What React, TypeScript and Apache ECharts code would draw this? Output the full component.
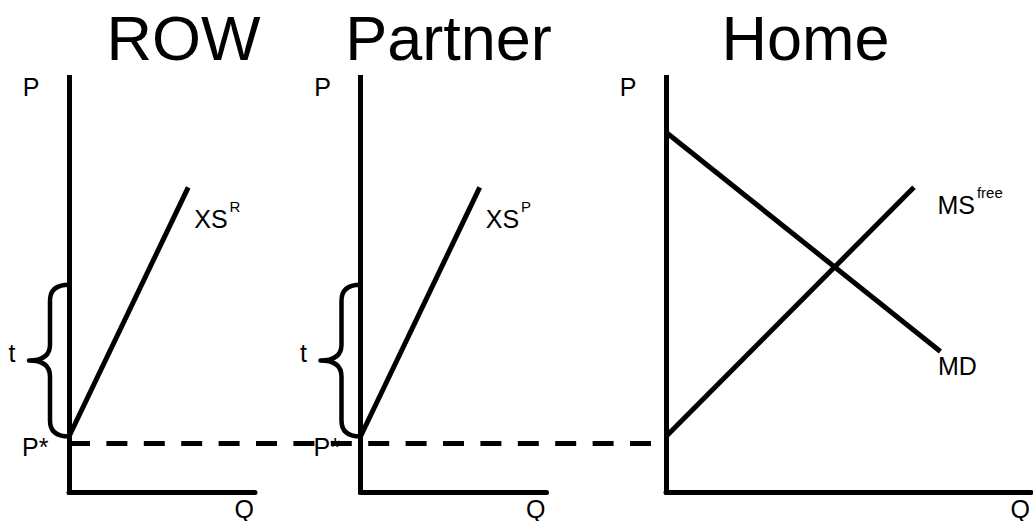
import React, { useEffect, useRef } from 'react';
import * as echarts from 'echarts';

const FONT = '"Liberation Sans", Arial, Helvetica, sans-serif';

// ---- data ----
const panelTitles = ['ROW', 'Partner', 'Home'];
const priceMax = 100;
const quantityMax = [44, 44, 87];
const worldPrice = 13.4; // P*
const tariff = 36.6; // t (brace height above P*)
const xsRow = [[0, 13.4], [28.2, 73.5]];
const xsPartner = [[0, 13.4], [28.2, 73.5]];
const msFree = [[0, 13.4], [59.1, 73.5]];
const mdHome = [[0, 86.8], [65.4, 33.9]];

// ---- layout / style ----
const GRID_TOP = 77.5;
const GRID_H = 422.5;
const grids = [
  { left: 69, top: GRID_TOP, width: 186, height: GRID_H },
  { left: 360.5, top: GRID_TOP, width: 186, height: GRID_H },
  { left: 666, top: GRID_TOP, width: 369, height: GRID_H },
  { left: 69, top: GRID_TOP, width: 597, height: GRID_H }, // span for the P* dashed line
];
const titleX = [183.5, 448.5, 805.5];
const BLACK = '#000';
const LABEL_SIZE = 25;

function qAxis(i: number) {
  return {
    type: 'value', gridIndex: i, min: 0, max: quantityMax[i],
    name: 'Q', nameLocation: 'end', nameGap: -1,
    nameTextStyle: { color: BLACK, fontFamily: FONT, fontSize: LABEL_SIZE, align: 'right', verticalAlign: 'top', padding: [4, 0, 0, 0] },
    axisLine: { show: true, onZero: false, lineStyle: { color: BLACK, width: 5 } },
    axisTick: { show: false }, axisLabel: { show: false }, splitLine: { show: false },
  };
}
function pAxis(i: number) {
  return {
    type: 'value', gridIndex: i, min: 0, max: priceMax,
    name: 'P', nameLocation: 'end', nameGap: -9.5,
    nameTextStyle: { color: BLACK, fontFamily: FONT, fontSize: LABEL_SIZE, align: 'center', verticalAlign: 'middle', padding: [0, 76, 0, 0] },
    axisLine: { show: true, onZero: false, lineStyle: { color: BLACK, width: 5, cap: 'square' } },
    axisTick: { show: false }, axisLabel: { show: false }, splitLine: { show: false },
  };
}

function curveLabel(main: string, sup: string | null, dx: number, dy: number) {
  return {
    show: true, position: [dx, dy], align: 'left', verticalAlign: 'middle', color: BLACK,
    formatter: sup ? `{m|${main}}{s|${sup}}` : `{m|${main}}`,
    rich: {
      m: { fontSize: LABEL_SIZE, fontFamily: FONT, color: BLACK, verticalAlign: 'middle' },
      s: { fontSize: 15, fontFamily: FONT, color: BLACK, verticalAlign: 'middle', padding: [0, 0, 25, 2] },
    },
  };
}

const withEndLabel = (pts: number[][], label: any) =>
  pts.map((p, k) => (k === pts.length - 1 ? { value: p, label } : p));

function curve(i: number, pts: number[][], label: any) {
  return {
    type: 'line', xAxisIndex: i, yAxisIndex: i, silent: true, z: 3,
    data: withEndLabel(pts, label),
    symbol: 'circle', symbolSize: 1, showSymbol: true,
    itemStyle: { color: 'rgba(0,0,0,0)' },
    lineStyle: { color: BLACK, width: 5 },
    emphasis: { disabled: true },
  };
}

function brace(i: number) {
  return {
    type: 'custom', xAxisIndex: i, yAxisIndex: i, clip: false, silent: true, z: 4,
    data: [[0, worldPrice, worldPrice + tariff]],
    renderItem: (_params: any, api: any) => {
      const top = api.coord([api.value(0), api.value(2)]);
      const bot = api.coord([api.value(0), api.value(1)]);
      const X = top[0];
      const T = top[1];
      const B = bot[1];
      const M = (T + B) / 2;
      const o = X - 19;
      const tip = X - 40;
      const r = 16;
      const d = `M${X} ${T} Q${o} ${T} ${o} ${T + r} L${o} ${M - r} Q${o} ${M} ${tip} ${M} Q${o} ${M} ${o} ${M + r} L${o} ${B - r} Q${o} ${B} ${X} ${B}`;
      return {
        type: 'group',
        children: [
          { type: 'path', shape: { pathData: d }, style: { stroke: BLACK, fill: 'none', lineWidth: 4.5, lineCap: 'round', lineJoin: 'round' } },
          { type: 'text', x: X - 57, y: M - 8, style: { text: 't', fill: BLACK, fontSize: LABEL_SIZE, fontFamily: FONT, align: 'center', verticalAlign: 'middle' } },
          { type: 'text', x: X - 47, y: B + 11, style: { text: 'P*', fill: BLACK, fontSize: LABEL_SIZE, fontFamily: FONT, align: 'left', verticalAlign: 'middle' } },
        ],
      };
    },
  };
}

export default function App() {
  const ref = useRef<HTMLDivElement>(null);
  useEffect(() => {
    const chart = echarts.init(ref.current!, null, { renderer: 'svg' });
    const option: any = {
      animation: false,
      backgroundColor: '#fff',
      graphic: panelTitles.map((t, i) => ({
        type: 'text', x: titleX[i], y: 37.5, silent: true,
        style: { text: t, fill: BLACK, fontSize: 63, fontFamily: FONT, align: 'center', verticalAlign: 'middle' },
      })),
      grid: grids,
      xAxis: [qAxis(0), qAxis(1), qAxis(2), { type: 'value', gridIndex: 3, min: 0, max: 1, show: false }],
      yAxis: [pAxis(0), pAxis(1), pAxis(2), { type: 'value', gridIndex: 3, min: 0, max: priceMax, show: false }],
      series: [
        {
          type: 'line', xAxisIndex: 3, yAxisIndex: 3, silent: true, z: 2, symbol: 'none',
          data: [[0, worldPrice], [1, worldPrice]],
          lineStyle: { color: BLACK, width: 5, type: [21, 16.4] },
        },
        curve(0, xsRow, curveLabel('XS', 'R', 6.5, 32)),
        curve(1, xsPartner, curveLabel('XS', 'P', 6.5, 32)),
        curve(2, mdHome, curveLabel('MD', null, -2, 15)),
        curve(2, msFree, curveLabel('MS', 'free', 24, 18)),
        brace(0),
        brace(1),
      ],
    };
    chart.setOption(option);
    return () => chart.dispose();
  }, []);
  return (
    <div
      ref={ref}
      style={{ position: 'fixed', left: 0, top: 0, width: 1033, height: 521, background: '#fff' }}
    />
  );
}
